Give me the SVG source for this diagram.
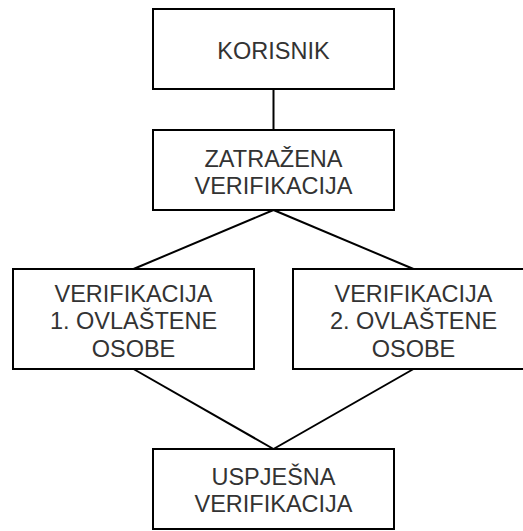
<svg xmlns="http://www.w3.org/2000/svg" width="523" height="531" viewBox="0 0 523 531">
<style>
.box{fill:#fff;stroke:#000;stroke-width:2}
.t{font-family:"Liberation Sans",Arial,sans-serif;font-size:23.5px;fill:#333;text-anchor:middle}
.c{fill:none;stroke:#000;stroke-width:2}
</style>
<rect width="523" height="531" fill="#fff"/>
<g id="connectors">
<line class="c" x1="273.5" y1="89" x2="273.5" y2="130"/>
<line class="c" x1="273.5" y1="210" x2="133.5" y2="269"/>
<line class="c" x1="273.5" y1="210" x2="413.5" y2="269"/>
<line class="c" x1="133.5" y1="369" x2="273.5" y2="449"/>
<line class="c" x1="413.5" y1="369" x2="273.5" y2="449"/>
</g>
<g id="korisnik">
<rect class="box" x="153" y="9" width="241" height="80"/>
<text class="t" x="273.5" y="58.5">KORISNIK</text>
</g>
<g id="zatrazena">
<rect class="box" x="153" y="130" width="241" height="80"/>
<text class="t" x="273.5" y="166.5">ZATRAŽENA</text>
<text class="t" x="273.5" y="193.5">VERIFIKACIJA</text>
</g>
<g id="ovlastena1">
<rect class="box" x="13" y="269" width="241" height="100"/>
<text class="t" x="133.5" y="301.5">VERIFIKACIJA</text>
<text class="t" x="133.5" y="329">1. OVLAŠTENE</text>
<text class="t" x="133.5" y="356.5">OSOBE</text>
</g>
<g id="ovlastena2">
<rect class="box" x="293" y="269" width="241" height="100"/>
<text class="t" x="413.5" y="301.5">VERIFIKACIJA</text>
<text class="t" x="413.5" y="329">2. OVLAŠTENE</text>
<text class="t" x="413.5" y="356.5">OSOBE</text>
</g>
<g id="uspjesna">
<rect class="box" x="153" y="449" width="241" height="80"/>
<text class="t" x="273.5" y="484.5">USPJEŠNA</text>
<text class="t" x="273.5" y="511.5">VERIFIKACIJA</text>
</g>
</svg>
